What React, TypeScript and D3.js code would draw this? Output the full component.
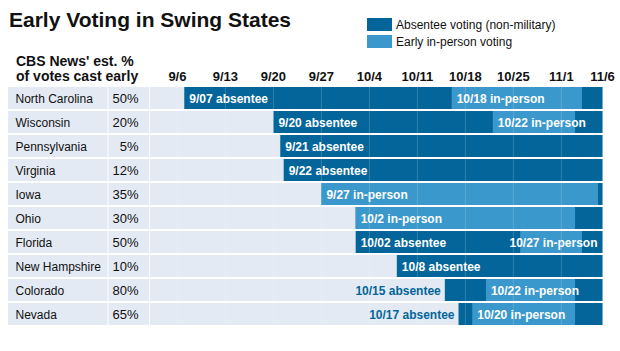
import React from "react";
import * as d3 from "d3";

const width = 620;
const height = 351;

// rows, top to bottom
const states = [
  "North Carolina",
  "Wisconsin",
  "Pennsylvania",
  "Virginia",
  "Iowa",
  "Ohio",
  "Florida",
  "New Hampshire",
  "Colorado",
  "Nevada",
];
const earlyShare = [50, 20, 5, 12, 35, 30, 50, 10, 80, 65];

// absentee voting runs from its start through election day
const absenteeStart = [
  "2012-09-07",
  "2012-09-20",
  "2012-09-21",
  "2012-09-21T12:00",
  "2012-09-27",
  "2012-10-02",
  "2012-10-02",
  "2012-10-08",
  "2012-10-15",
  "2012-10-17",
];
const absenteeLabel = [
  "9/07 absentee",
  "9/20 absentee",
  "9/21 absentee",
  "9/22 absentee",
  null,
  null,
  "10/02 absentee",
  "10/8 absentee",
  "10/15 absentee",
  "10/17 absentee",
];
// "in" = inside bar, "out" = left of bar
const absenteeLabelPos = ["in", "in", "in", "in", "in", "in", "in", "in", "out", "out"];

const inPersonStart = [
  "2012-10-16",
  "2012-10-22",
  null,
  null,
  "2012-09-27",
  "2012-10-02",
  "2012-10-26",
  null,
  "2012-10-21",
  "2012-10-19",
];
const inPersonEnd = [
  "2012-11-04",
  "2012-11-03",
  null,
  null,
  "2012-11-06T08:00",
  "2012-11-03",
  "2012-11-04",
  null,
  "2012-11-03",
  "2012-11-03",
];
const inPersonLabel = [
  "10/18 in-person",
  "10/22 in-person",
  null,
  null,
  "9/27 in-person",
  "10/2 in-person",
  "10/27 in-person",
  null,
  "10/22 in-person",
  "10/20 in-person",
];
// "in" = from bar start, "end" = right aligned at chart end
const inPersonLabelPos = ["in", "in", "in", "in", "in", "in", "end", "in", "in", "in"];

// 11/6 tick marks the end of election day
const tickDates = [
  "2012-09-06",
  "2012-09-13",
  "2012-09-20",
  "2012-09-27",
  "2012-10-04",
  "2012-10-11",
  "2012-10-18",
  "2012-10-25",
  "2012-11-01",
  "2012-11-07",
];
const tickLabels = ["9/6", "9/13", "9/20", "9/27", "10/4", "10/11", "10/18", "10/25", "11/1", "11/6"];

const timelineStart = "2012-09-02";
const timelineEnd = "2012-11-07";

const legendKeys = ["Absentee voting (non-military)", "Early in-person voting"];

const DARK = "#03659a";
const LIGHT = "#3a98cc";
const ROW_BG = "#e3eaf3";
const TEXT = "#111";
const FONT = "Arial, 'Liberation Sans', Helvetica, sans-serif";

const day = (s: string) => new Date(s.length > 10 ? s : s + "T00:00");

const nameX0 = 8;
const nameX1 = 107.5;
const pctX1 = 149;
const chartX0 = 150;
const chartX1 = 602.5;

const App = () => {
  const x = d3
    .scaleTime()
    .domain([day(timelineStart), day(timelineEnd)])
    .range([chartX0, chartX1]);

  const y = d3.scaleBand().domain(states).range([87, 325]).paddingInner(2 / 24);
  const bw = y.bandwidth();

  const legendColor = d3.scaleOrdinal<string, string>().domain(legendKeys).range([DARK, LIGHT]);

  const gridDates = tickDates.slice(0, -1).map(day);

  return (
    <svg width={width} height={height} style={{ display: "block", background: "#fff" }} fontFamily={FONT}>
      <style>{`body{margin:0}`}</style>

      <text x={9} y={27} fontSize={21} fontWeight="bold" fill={TEXT}>
        Early Voting in Swing States
      </text>

      {/* legend */}
      {legendKeys.map((k, i) => (
        <g key={k} transform={`translate(367,${18 + i * 17})`}>
          <rect width={25} height={13} fill={legendColor(k)} />
          <text x={29} y={11} fontSize={12} fill={TEXT}>
            {k}
          </text>
        </g>
      ))}

      {/* column header */}
      <text x={16} y={66} fontSize={14} fontWeight="bold" fill={TEXT}>
        CBS News' est. %
      </text>
      <text x={16} y={81} fontSize={14} fontWeight="bold" fill={TEXT}>
        of votes cast early
      </text>

      {/* date ticks */}
      {tickDates.map((d, i) => (
        <text
          key={d}
          x={x(day(d))}
          y={81}
          fontSize={13}
          fontWeight="bold"
          textAnchor="middle"
          fill={TEXT}
        >
          {tickLabels[i]}
        </text>
      ))}

      {states.map((st, i) => {
        const top = y(st) as number;
        const absX = x(day(absenteeStart[i]));
        const ipX = inPersonStart[i] ? x(day(inPersonStart[i] as string)) : 0;
        const ipX1 = inPersonEnd[i] ? x(day(inPersonEnd[i] as string)) : 0;
        const ty = top + 15.5;
        return (
          <g key={st}>
            <rect x={nameX0} y={top} width={nameX1 - nameX0} height={bw} fill={ROW_BG} />
            <rect x={nameX1 + 1} y={top} width={pctX1 - nameX1 - 1} height={bw} fill={ROW_BG} />
            <rect x={chartX0} y={top} width={chartX1 - chartX0} height={bw} fill={ROW_BG} />
            <text x={15.5} y={ty} fontSize={12} fill={TEXT}>
              {st}
            </text>
            <text x={138.5} y={ty} fontSize={13} textAnchor="end" fill={TEXT}>
              {earlyShare[i]}%
            </text>

            <rect x={absX} y={top} width={chartX1 - absX} height={bw} fill={DARK} />
            {inPersonStart[i] && <rect x={ipX} y={top} width={ipX1 - ipX} height={bw} fill={LIGHT} />}

            {gridDates.map((gd, j) => (
              <line
                key={j}
                x1={x(gd)}
                x2={x(gd)}
                y1={top}
                y2={top + bw}
                stroke="#fff"
                strokeOpacity={0.18}
              />
            ))}

            {absenteeLabel[i] && (
              <text
                x={absenteeLabelPos[i] === "out" ? absX - 4 : absX + 5}
                y={ty}
                fontSize={12}
                fontWeight="bold"
                textAnchor={absenteeLabelPos[i] === "out" ? "end" : "start"}
                fill={absenteeLabelPos[i] === "out" ? DARK : "#fff"}
              >
                {absenteeLabel[i]}
              </text>
            )}
            {inPersonLabel[i] && (
              <text
                x={inPersonLabelPos[i] === "end" ? chartX1 - 5 : ipX + 5}
                y={ty}
                fontSize={12}
                fontWeight="bold"
                textAnchor={inPersonLabelPos[i] === "end" ? "end" : "start"}
                fill="#fff"
              >
                {inPersonLabel[i]}
              </text>
            )}
          </g>
        );
      })}
    </svg>
  );
};

export default App;
